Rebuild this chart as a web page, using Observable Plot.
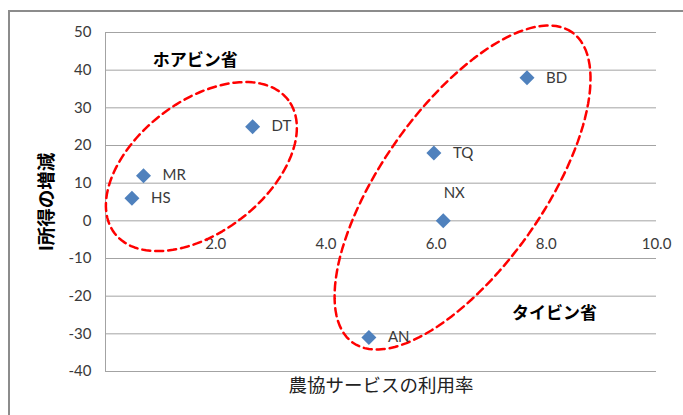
<!DOCTYPE html>
<html>
<head>
<meta charset="utf-8">
<script src="https://cdn.jsdelivr.net/npm/d3@7"></script>
<script src="https://cdn.jsdelivr.net/npm/@observablehq/plot@0.6"></script>
<style>
  html, body { margin: 0; padding: 0; background: #fff; }
  #wrap { position: relative; width: 683px; height: 415px; overflow: hidden; }
  #border { position: absolute; left: 8px; top: 10px; width: 700px; height: 420px;
            border-left: 2px solid #8c8c8c; border-top: 2px solid #8c8c8c; box-sizing: border-box; }
  #chart { position: absolute; left: 0; top: 0; }
</style>
</head>
<body>
<div id="wrap"><div id="border"></div><div id="chart"></div></div>
<script>
// Commune codes, cooperative service usage rate (x) and income change (y)
const codes = ["HS", "MR", "DT", "TQ", "BD", "NX", "AN"];
const usageRate = [0.48, 0.69, 2.67, 5.96, 7.65, 6.13, 4.78];
const incomeChange = [6, 12, 25, 18, 38, 0, -31];

const xTicks = [2, 4, 6, 8, 10];
const yTicks = [50, 40, 30, 20, 10, 0, -10, -20, -30, -40];

// Province groupings: label, label position, and grouping ellipse
// (centre plus two conjugate semi-axes, all in data units)
const provinceNames = ["ホアビン省", "タイビン省"];
const provinceLabelX = [1.63, 8.15];
const provinceLabelY = [42.5, -24.6];
const ellipseCenter = [[1.74, 14.4], [6.48, 8.84]];
const ellipseAxisU = [[1.575, 17.7], [1.99, 41.2]];
const ellipseAxisV = [[-0.723, 13.8], [-1.198, 12.37]];

const points = codes.map((c, i) => ({code: c, x: usageRate[i], y: incomeChange[i]}));

// Outline of each grouping ellipse
const outlines = [];
ellipseCenter.forEach((c, k) => {
  const u = ellipseAxisU[k], v = ellipseAxisV[k];
  for (let j = 0; j <= 120; j++) {
    const t = (j / 120) * 2 * Math.PI;
    outlines.push({
      group: k,
      x: c[0] + u[0] * Math.cos(t) + v[0] * Math.sin(t),
      y: c[1] + u[1] * Math.cos(t) + v[1] * Math.sin(t)
    });
  }
});

const numFont = "Lato, 'Liberation Sans', sans-serif";
const jpFont = "'Noto Sans CJK JP', sans-serif";
const grid = "#a3a3a3";
const labelColor = "#3a3a3a";

const chart = Plot.plot({
  width: 683,
  height: 415,
  marginLeft: 105,
  marginRight: 27,
  marginTop: 32,
  marginBottom: 44,
  x: {domain: [0, 10], axis: null},
  y: {domain: [-40, 50], axis: null},
  style: {fontFamily: numFont, background: "transparent"},
  marks: [
    Plot.ruleY(yTicks, {stroke: grid, strokeWidth: 1}),
    Plot.ruleX([0], {stroke: grid, strokeWidth: 1}),
    Plot.text(yTicks, {x: 0, y: d => d, text: d => String(d), dx: -14, textAnchor: "end",
      fontSize: 15, fill: labelColor}),
    Plot.text(xTicks, {x: d => d, y: 0, dy: 23, text: d => d.toFixed(1),
      fontSize: 15, fill: labelColor}),
    Plot.line(outlines, {x: "x", y: "y", z: "group", stroke: "#ff0000", strokeWidth: 2.5,
      strokeDasharray: "8,5", curve: "linear"}),
    Plot.dot(points, {x: "x", y: "y", symbol: "diamond2", r: 6.75, fill: "#4f81bd", stroke: "none"}),
    Plot.text(points.filter(d => d.code !== "NX"), {x: "x", y: "y", text: "code", dx: 19,
      textAnchor: "start", fontSize: 15, fill: labelColor}),
    Plot.text(points.filter(d => d.code === "NX"), {x: "x", y: "y", text: "code", dx: 11, dy: -28,
      fontSize: 15, fill: labelColor}),
    Plot.text(provinceNames, {x: (d, i) => provinceLabelX[i], y: (d, i) => provinceLabelY[i],
      text: d => d, fontFamily: jpFont, fontWeight: "bold", fontSize: 17, fill: "#000"}),
    Plot.text(["農協サービスの利用率"], {frameAnchor: "bottom", dy: 15, textAnchor: "middle",
      lineAnchor: "middle", fontFamily: jpFont, fontSize: 18.5, fill: "#222"}),
    Plot.text(["I所得の増減"], {frameAnchor: "left", dx: -58, rotate: -90, textAnchor: "middle",
      lineAnchor: "middle", fontFamily: jpFont, fontWeight: "bold", fontSize: 18.5, fill: "#000"})
  ]
});
document.getElementById("chart").appendChild(chart);
</script>
</body>
</html>
